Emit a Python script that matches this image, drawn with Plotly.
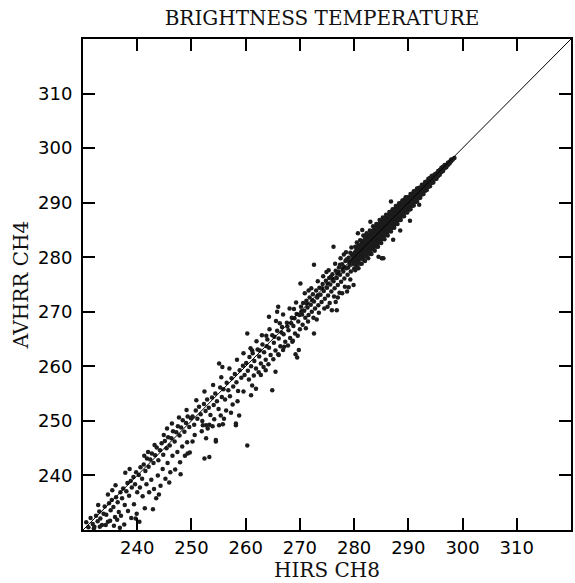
import plotly.graph_objects as go

# Axis ticks
tick_vals = [240, 250, 260, 270, 280, 290, 300, 310]
axis_range = [230, 320]

# 1:1 reference line
line_x = [230, 320]
line_y = [230, 320]

# Scatter points (HIRS CH8, AVHRR CH4)
cold_pairs = [
    (230.6, 231.4), (231.0, 230.5), (231.4, 232.2), (231.8, 231.1), (232.1, 230.6), (232.4, 232.6),
    (232.7, 231.6), (233.0, 233.4), (233.2, 232.1), (233.5, 230.9), (233.8, 233.0), (234.0, 234.3),
    (234.3, 232.8), (234.6, 231.5), (234.8, 234.9), (235.1, 233.6), (235.3, 235.5), (235.6, 234.2),
    (235.9, 232.4), (236.1, 236.0), (236.4, 235.1), (236.6, 233.3), (236.9, 236.9), (237.2, 235.8),
    (237.4, 237.6), (237.7, 234.6), (238.0, 237.1), (238.2, 238.6), (238.5, 236.3), (238.8, 239.0),
    (239.0, 237.8), (239.3, 239.7), (239.6, 238.4), (239.8, 240.6), (240.0, 236.9),
    (232.0, 230.3), (233.1, 230.6), (234.2, 230.9), (235.0, 231.7), (235.7, 230.8), (236.3, 231.9),
    (237.0, 232.6), (237.6, 231.0), (238.3, 233.5), (238.9, 232.2), (239.4, 234.7), (239.9, 233.0),
    (236.8, 230.4), (240.4, 231.5), (239.7, 232.1),
    (232.8, 234.6), (234.6, 236.5), (236.0, 238.2), (237.8, 240.5), (238.6, 241.2), (235.4, 237.3),
]

cool_pairs = [
    (240.3, 240.1), (240.6, 241.5), (240.9, 239.4), (241.2, 242.0), (241.5, 240.8), (241.8, 243.1),
    (242.1, 241.6), (242.4, 242.9), (242.7, 244.0), (243.0, 242.3), (243.3, 243.7), (243.6, 245.1),
    (243.9, 242.8), (244.2, 244.6), (244.5, 245.9), (244.8, 243.8), (245.1, 246.3), (245.4, 245.0),
    (245.7, 247.0), (246.0, 245.5), (246.3, 246.8), (246.6, 248.1), (246.9, 246.2), (247.2, 247.9),
    (247.5, 249.0), (247.8, 247.3), (248.1, 248.8), (248.4, 250.1), (248.7, 248.0), (249.0, 249.6),
    (249.3, 250.8), (249.6, 248.9), (249.9, 250.5),
    (240.5, 237.8), (241.0, 236.2), (241.4, 234.0), (241.7, 238.4), (242.2, 236.9), (242.6, 239.2),
    (243.1, 237.5), (243.5, 235.8), (243.8, 240.0), (244.3, 238.1), (244.7, 241.2), (245.2, 239.4),
    (245.6, 242.3), (246.1, 240.6), (246.5, 243.6), (247.0, 241.1), (247.4, 244.3), (247.9, 242.4),
    (248.3, 245.3), (248.8, 243.6), (249.2, 246.1), (249.7, 244.2), (244.0, 236.5), (245.9, 238.7),
    (242.9, 233.8), (248.0, 240.2), (249.3, 244.0),
    (241.3, 243.6), (243.2, 245.6), (244.9, 247.4), (246.4, 249.5), (247.7, 250.6), (249.1, 252.0),
    (242.0, 244.3), (245.5, 248.6),
]

mid_pairs = [
    (250.2, 250.8), (250.5, 249.3), (250.8, 251.9), (251.1, 250.4), (251.4, 252.6), (251.7, 251.2),
    (252.0, 250.0), (252.3, 253.1), (252.6, 251.8), (252.9, 253.9), (253.2, 252.4), (253.5, 251.1),
    (253.8, 254.3), (254.1, 252.9), (254.4, 255.0), (254.7, 253.6), (255.0, 252.2), (255.3, 256.1),
    (255.6, 254.4), (255.9, 255.8), (256.2, 253.9), (256.5, 257.0), (256.8, 255.6), (257.1, 254.5),
    (257.4, 257.8), (257.7, 256.3), (258.0, 258.6), (258.3, 257.1), (258.6, 255.5), (258.9, 259.3),
    (259.2, 257.9), (259.5, 260.1), (259.8, 258.4), (251.9, 248.1), (253.0, 248.6), (254.2, 250.3),
    (255.4, 251.0), (256.4, 251.9), (257.6, 253.0), (258.5, 253.6), (259.6, 255.4), (256.0, 250.4),
    (257.3, 251.5),
    (250.9, 253.8), (252.4, 255.4), (254.0, 256.6), (255.5, 258.0), (257.0, 259.6), (258.4, 261.2),
    (259.6, 262.4),
    (252.1, 249.2), (253.3, 249.3), (253.9, 249.0), (255.8, 249.4), (258.2, 249.2), (252.4, 243.1),
    (253.3, 243.4), (252.7, 246.8), (254.5, 246.2), (250.6, 247.4), (250.2, 246.2), (260.3, 245.5),
    (258.8, 251.0), (258.2, 249.5), (255.1, 249.2), (252.7, 249.2), (254.5, 246.5), (255.1, 260.5),
    (255.7, 259.9),
]

warm_pairs = [
    (260.1, 260.6), (260.4, 259.2), (260.7, 261.7), (261.0, 260.0), (261.3, 262.4), (261.6, 261.0),
    (261.9, 259.6), (262.2, 263.1), (262.5, 261.8), (262.8, 260.5), (263.1, 264.0), (263.4, 262.6),
    (263.7, 261.2), (264.0, 264.9), (264.3, 263.4), (264.6, 262.1), (264.9, 265.7), (265.2, 264.3),
    (265.5, 262.9), (265.8, 266.5), (266.1, 265.1), (266.4, 263.7), (266.7, 267.2), (267.0, 265.9),
    (267.3, 264.5), (267.6, 268.0), (267.9, 266.6), (268.2, 265.2), (268.5, 268.9), (268.8, 267.4),
    (269.1, 266.0), (269.4, 269.6), (269.7, 268.2), (270.0, 266.8),
    (260.6, 257.6), (261.5, 258.3), (262.4, 258.9), (263.3, 259.9), (264.2, 260.4), (265.1, 261.3),
    (266.0, 262.2), (266.9, 263.0), (267.8, 263.8), (268.7, 264.7), (269.6, 265.6),
    (260.9, 263.3), (262.0, 264.6), (263.0, 265.7), (264.4, 266.8), (265.6, 268.3), (266.9, 269.5),
    (268.1, 270.6), (269.3, 271.7), (261.2, 262.9), (263.8, 265.6), (266.3, 267.9), (268.9, 270.5),
    (261.9, 255.9), (261.0, 254.7), (261.2, 256.5), (263.7, 259.3), (262.8, 258.4), (265.5, 259.0),
    (264.9, 255.6), (260.3, 266.0), (264.3, 269.1), (265.8, 270.0), (266.0, 270.9),
    (269.5, 261.6), (269.8, 263.0), (269.2, 262.2), (268.6, 264.5), (267.1, 263.6), (266.1, 262.1),
    (262.6, 262.9), (263.9, 263.7), (265.3, 265.4), (266.6, 266.2), (267.7, 267.3), (268.4, 267.9),
    (269.0, 268.8), (269.9, 269.4),
]

hot_pairs = [
    (270.2, 270.9), (270.4, 269.5), (270.6, 271.6), (270.8, 270.2), (271.0, 268.9), (271.2, 272.0),
    (271.4, 270.8), (271.6, 269.4), (271.8, 272.6), (272.0, 271.3), (272.2, 270.0), (272.4, 273.2),
    (272.6, 271.9), (272.8, 270.6), (273.0, 273.9), (273.2, 272.6), (273.4, 271.2), (273.6, 274.4),
    (273.8, 273.1), (274.0, 271.8), (274.2, 275.1), (274.4, 273.8), (274.6, 272.4), (274.8, 275.7),
    (275.0, 274.4), (275.2, 273.0), (275.4, 276.2), (275.6, 275.0), (275.8, 273.7), (276.0, 276.9),
    (276.2, 275.6), (276.4, 274.3), (276.6, 277.5), (276.8, 276.2), (277.0, 274.9), (277.2, 278.1),
    (277.4, 276.8), (277.6, 275.5), (277.8, 278.7), (278.0, 277.4), (278.2, 276.1), (278.4, 279.3),
    (278.6, 278.0), (278.8, 276.8), (279.0, 279.9), (279.2, 278.6), (279.4, 277.4), (279.6, 280.4),
    (279.8, 279.1), (280.0, 277.9),
    (270.5, 267.6), (271.5, 268.2), (272.5, 268.9), (273.5, 269.8), (274.5, 270.6), (275.5, 271.6),
    (276.3, 272.8), (277.3, 273.5), (278.3, 274.6), (279.3, 275.9), (271.1, 267.0), (273.1, 268.6),
    (275.1, 270.9), (277.0, 272.6), (279.0, 274.5),
    (270.9, 273.4), (272.1, 274.3), (273.3, 275.6), (274.3, 276.5), (275.3, 277.6), (276.5, 278.8),
    (277.5, 279.8), (278.5, 280.9), (279.5, 281.8), (271.6, 273.9), (274.9, 277.3), (278.1, 280.5),
    (270.3, 270.1), (271.3, 271.5), (272.3, 272.1), (273.3, 273.0), (274.1, 274.3), (275.1, 275.2),
    (276.1, 276.0), (277.1, 277.3), (278.1, 278.2), (279.1, 279.2), (279.9, 280.2),
    (270.1, 275.2), (272.6, 278.6), (276.2, 281.9), (279.9, 274.9), (278.7, 273.7), (277.8, 273.4),
    (276.6, 271.8), (275.9, 270.3), (276.8, 270.3), (272.6, 266.0),
    (275.7, 276.4), (276.9, 277.0), (277.9, 277.9), (278.9, 278.1), (279.7, 279.6), (277.4, 278.6),
    (278.6, 279.6), (279.3, 280.8),
]

# Dense core: HIRS value with the AVHRR values stacked at it
blob_cols = [
    (280.2, [277.6, 278.6, 279.7, 280.8, 281.9]), (280.5, [278.4, 279.4, 280.5, 281.6, 282.7]),
    (280.8, [278.0, 279.1, 280.2, 281.3, 282.3]), (281.1, [278.8, 279.9, 281.0, 282.1, 283.1]),
    (281.4, [278.8, 279.8, 280.9, 282.0, 283.0]), (281.7, [279.6, 280.7, 281.8, 282.9, 284.0]),
    (282.0, [279.3, 280.5, 281.6, 282.7, 283.7]), (282.3, [280.1, 281.2, 282.3, 283.4, 284.4]),
    (282.6, [279.8, 280.9, 282.0, 283.1, 284.1]), (282.9, [280.6, 281.7, 282.8, 283.9, 284.9]),
    (283.2, [280.6, 281.7, 282.7, 283.8, 284.8]), (283.5, [281.4, 282.5, 283.6, 284.7, 285.7]),
    (283.8, [281.2, 282.2, 283.3, 284.4, 285.4]), (284.1, [281.9, 283.0, 284.1, 285.2, 286.1]),
    (284.4, [281.9, 282.9, 284.0, 285.1, 286.0]), (284.7, [282.7, 283.7, 284.8, 285.8, 286.8]),
    (285.0, [282.6, 283.6, 284.7, 285.7, 286.6]), (285.3, [283.4, 284.4, 285.4, 286.4, 287.3]),
    (285.6, [283.3, 284.3, 285.3, 286.3, 287.2]), (285.9, [284.1, 285.1, 286.1, 287.1, 287.8]),
    (286.2, [284.0, 285.0, 286.0, 286.9, 287.7]), (286.5, [284.8, 285.7, 286.7, 287.6, 288.3]),
    (286.8, [284.7, 285.6, 286.6, 287.5, 288.3]), (287.1, [285.4, 286.4, 287.3, 288.1, 288.8]),
    (287.4, [285.4, 286.3, 287.2, 288.0, 288.8]), (287.7, [286.1, 287.0, 287.9, 288.7, 289.4]),
    (288.0, [286.1, 287.0, 287.9, 288.7, 289.4]), (288.3, [286.8, 287.7, 288.5, 289.3, 289.9]),
    (288.6, [286.8, 287.7, 288.5, 289.3, 289.9]), (288.9, [287.5, 288.3, 289.1, 289.8, 290.4]),
    (289.2, [287.5, 288.3, 289.1, 289.8, 290.5]), (289.5, [288.2, 289.0, 289.8, 290.5, 291.0]),
    (289.8, [288.2, 289.0, 289.8, 290.5, 291.0]), (290.1, [288.7, 289.5, 290.3, 291.0]),
    (290.4, [288.8, 289.5, 290.3, 291.0, 291.6]), (290.7, [289.4, 290.2, 290.9, 291.6]),
    (291.0, [289.5, 290.2, 290.9, 291.6, 292.1]), (291.3, [290.1, 290.8, 291.5, 292.1]),
    (291.6, [290.2, 290.9, 291.6, 292.2, 292.6]), (291.9, [290.8, 291.5, 292.2, 292.7]),
    (292.2, [290.9, 291.6, 292.2, 292.8]), (292.5, [291.5, 292.1, 292.8, 293.3]),
    (292.8, [291.6, 292.2, 292.8, 293.3]), (293.1, [292.2, 292.8, 293.4, 293.8]),
    (293.4, [292.3, 292.9, 293.5, 293.9]), (293.7, [292.9, 293.5, 294.0, 294.4]),
    (294.0, [293.0, 293.6, 294.1, 294.5]), (294.3, [293.6, 294.1, 294.6, 294.9]),
    (294.6, [293.7, 294.2, 294.7, 295.0]), (294.9, [294.3, 294.8, 295.2]),
    (295.2, [294.4, 294.9, 295.4]), (295.5, [294.9, 295.4, 295.8]),
    (295.8, [295.1, 295.6, 296.0]), (296.1, [295.6, 296.1, 296.4]),
    (296.4, [295.8, 296.2, 296.6]), (296.7, [296.3, 296.7, 296.9]),
    (297.0, [296.5, 296.9]), (297.3, [296.9, 297.3]), (297.6, [297.2, 297.5]),
    (297.9, [297.6, 297.9]), (298.2, [297.9]), (298.5, [298.2]),
]

core_outliers = [
    (286.8, 290.2), (290.3, 286.7), (287.2, 283.2), (285.1, 279.8), (285.4, 279.8), (284.5, 280.1),
    (283.0, 286.5), (281.5, 285.0), (292.0, 289.6), (288.5, 284.9), (280.7, 284.4),
]

# Solid part of the dense core: its upper and lower edges read at several HIRS values
core_hirs = [279.5, 281.0, 283.0, 285.0, 287.0, 289.0, 291.0, 293.0, 295.0, 297.0, 298.4]
core_upper = [280.6, 282.5, 284.8, 286.9, 288.6, 290.3, 291.9, 293.6, 295.4, 297.2, 298.4]
core_lower = [278.3, 279.2, 280.8, 282.8, 285.2, 287.5, 289.7, 292.0, 294.3, 296.5, 298.0]

hirs_ch8 = []
avhrr_ch4 = []
for group in (cold_pairs, cool_pairs, mid_pairs, warm_pairs, hot_pairs, core_outliers):
    for a, b in group:
        hirs_ch8.append(a)
        avhrr_ch4.append(b)
for a, bs in blob_cols:
    for b in bs:
        hirs_ch8.append(a)
        avhrr_ch4.append(b)

fig = go.Figure()
fig.add_trace(go.Scatter(x=core_hirs + core_hirs[::-1], y=core_upper + core_lower[::-1],
                         mode="lines", fill="toself", fillcolor="#1c1c1c",
                         line=dict(color="#1c1c1c", width=1), hoverinfo="skip"))
fig.add_trace(go.Scatter(x=hirs_ch8, y=avhrr_ch4, mode="markers",
                         marker=dict(color="#1c1c1c", size=4.5, line=dict(width=0))))
fig.add_trace(go.Scatter(x=line_x, y=line_y, mode="lines",
                         line=dict(color="black", width=1), hoverinfo="skip"))

axis_common = dict(
    range=axis_range, tickvals=tick_vals, ticks="inside", ticklen=12, tickwidth=2,
    tickcolor="black", showline=True, linewidth=2, linecolor="black", mirror="ticks",
    showgrid=False, zeroline=False,
    tickfont=dict(family="DejaVu Sans", size=18, color="black"),
)

fig.update_layout(
    width=575, height=583,
    margin=dict(l=83, r=2, t=39, b=53),
    paper_bgcolor="white", plot_bgcolor="white",
    showlegend=False,
    title=dict(text="BRIGHTNESS TEMPERATURE", x=0.56, xref="container", xanchor="center",
               y=1 - 18 / 583, yref="container", yanchor="middle",
               font=dict(family="DejaVu Serif", size=20, color="#111")),
    xaxis=dict(**axis_common,
               title=dict(text="HIRS CH8", standoff=4,
                          font=dict(family="DejaVu Serif", size=20, color="#111"))),
    yaxis=dict(**axis_common, ticklabelstandoff=5,
               title=dict(text="AVHRR CH4", standoff=4,
                          font=dict(family="DejaVu Serif", size=20, color="#111"))),
)

fig.write_html("out.html")
